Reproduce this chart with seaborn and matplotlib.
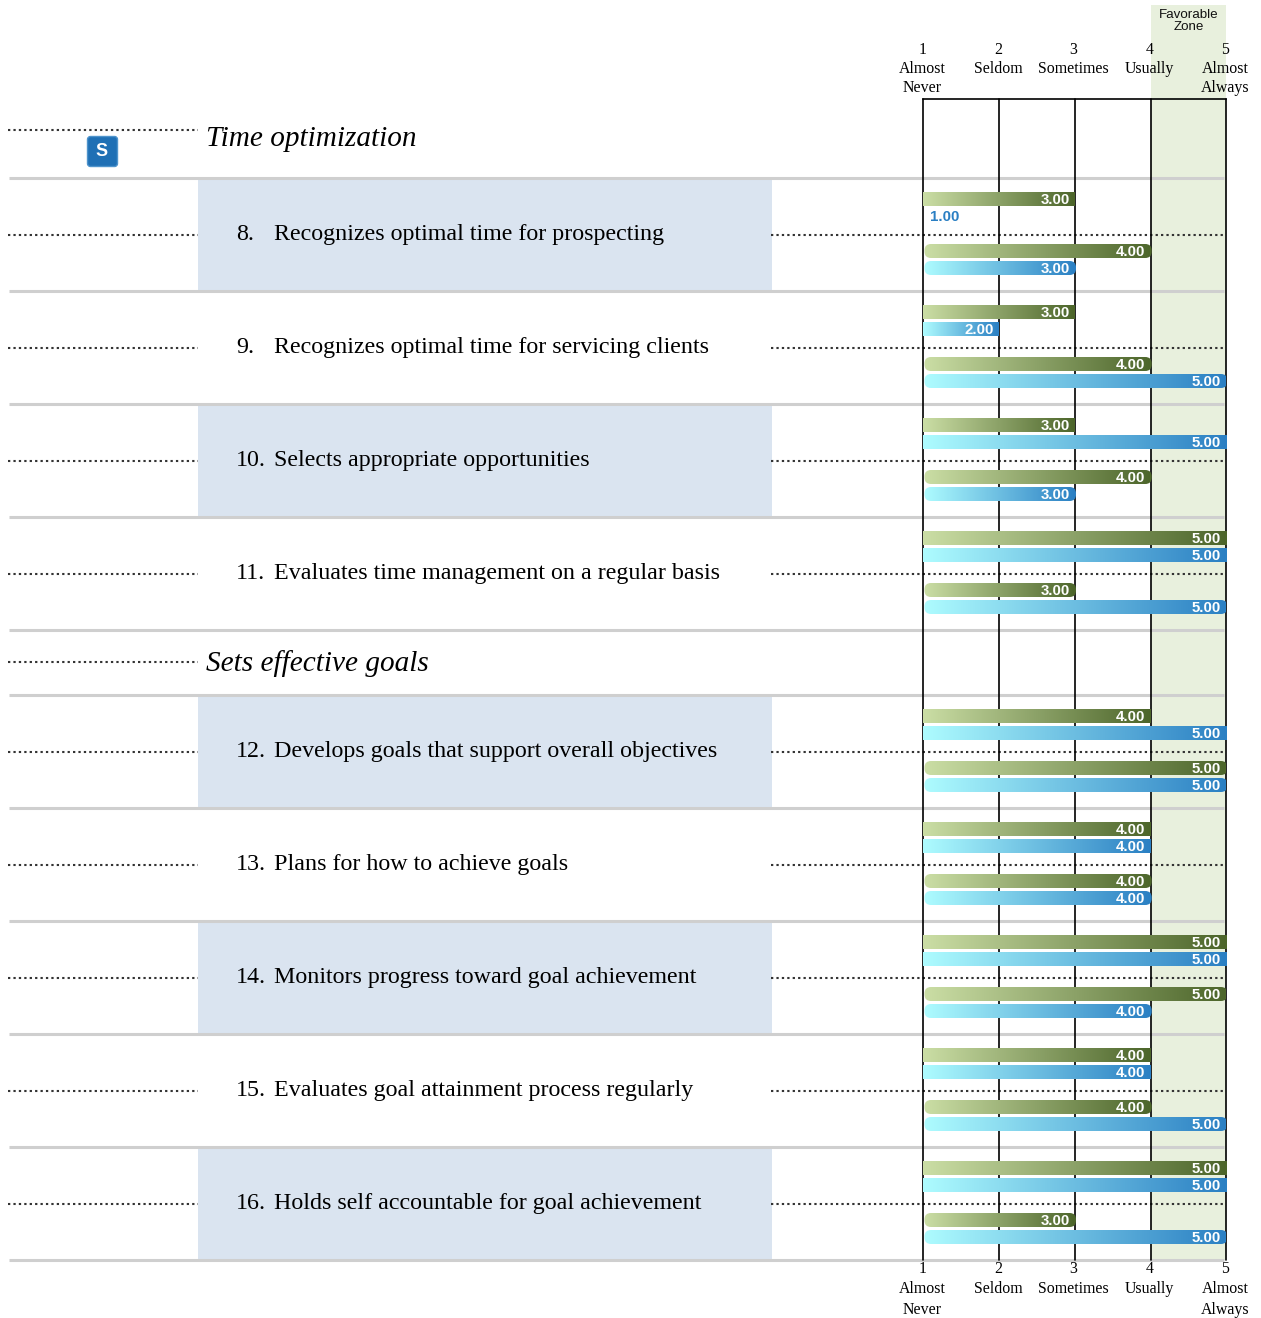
import numpy as np
import pandas as pd
import matplotlib
matplotlib.use("Agg")
import matplotlib.pyplot as plt
from matplotlib.colors import LinearSegmentedColormap
from matplotlib.patches import FancyBboxPatch, Rectangle
from matplotlib.transforms import ScaledTranslation
import seaborn as sns

# ---------- data ----------
item_numbers = ["8.", "9.", "10.", "11.", "12.", "13.", "14.", "15.", "16."]
item_labels = [
    "Recognizes optimal time for prospecting",
    "Recognizes optimal time for servicing clients",
    "Selects appropriate opportunities",
    "Evaluates time management on a regular basis",
    "Develops goals that support overall objectives",
    "Plans for how to achieve goals",
    "Monitors progress toward goal achievement",
    "Evaluates goal attainment process regularly",
    "Holds self accountable for goal achievement",
]
section_titles = ["Time optimization", "Sets effective goals"]
green_square = [3, 3, 3, 5, 4, 4, 5, 4, 5]
blue_square = [1, 2, 5, 5, 5, 4, 5, 4, 5]
green_round = [4, 4, 4, 3, 5, 4, 5, 4, 3]
blue_round = [3, 5, 3, 5, 5, 4, 4, 5, 5]
scale_values = [1, 2, 3, 4, 5]
scale_labels = ["1\nAlmost\nNever", "2\nSeldom\n ", "3\nSometimes\n ", "4\nUsually\n ", "5\nAlmost\nAlways"]
zone_label = "Favorable\nZone"

# ---------- layout (pixels) ----------
W, H = 1261, 1318
PX_X1, PX_X5 = 923.5, 1226.2
PX_TOP, PX_BOT = 99.0, 1260.0
row_tops = [178, 291, 404, 517, 695, 808, 921, 1034, 1147]
bar_offsets = {"gs": 21, "bs": 38, "gr": 73, "br": 90}
BAR_H = 15
GREEN_CMAP = LinearSegmentedColormap.from_list("g", ["#cbdea5", "#4c652a"])
BLUE_CMAP = LinearSegmentedColormap.from_list("b", ["#aefcff", "#2a7fc3"])
SERIF = "Liberation Serif"
SANS = "Liberation Sans"
DOTS = (0, (1.1, 1.5))

sns.set_theme(style="white")
fig = plt.figure(figsize=(W / 100, H / 100), dpi=100, facecolor="white")

# background layer in pixel coordinates
bg = fig.add_axes([0, 0, 1, 1], zorder=0)
bg.set_xlim(0, W)
bg.set_ylim(H, 0)
bg.axis("off")

bg.add_patch(Rectangle((1150.5, 5), 75.5, PX_BOT - 5, fc="#e8f0dd", ec="none", zorder=0))
bg.text(1189, 21.3, zone_label, ha="center", va="center", family=SANS, fontsize=9.6,
        linespacing=1.02, color="#111111")

for i, top in enumerate(row_tops):
    if i % 2 == 0:
        bg.add_patch(Rectangle((198, top + 2), 574, 110, fc="#dae4f0", ec="none", zorder=1))
    yc = top + 56.5
    bg.plot([8, 198], [yc, yc], color="#333333", lw=1.5, ls=DOTS, zorder=2)
    bg.plot([771, 1224], [yc, yc], color="#333333", lw=1.5, ls=DOTS, zorder=2)
    bg.text(236, top + 61.9, item_numbers[i], ha="left", va="baseline", family=SERIF, fontsize=17.25, color="black")
    bg.text(274, top + 61.9, item_labels[i], ha="left", va="baseline", family=SERIF, fontsize=17.25, color="black")

for y in [178, 291, 404, 517, 630, 695, 808, 921, 1034, 1147, 1260]:
    bg.plot([9, 1224], [y, y], color="#cfcfcf", lw=2.2, zorder=2, solid_capstyle="butt")

for title, y_text, y_dot in zip(section_titles, [146.2, 671.2], [130, 662]):
    bg.plot([8, 198], [y_dot, y_dot], color="#333333", lw=1.5, ls=DOTS, zorder=2)
    bg.text(206, y_text, title, ha="left", va="baseline", family=SERIF, style="italic",
            fontsize=21.05, color="black")

# "S" badge
bg.add_patch(FancyBboxPatch((87.5, 136.5), 30, 30, boxstyle="round,pad=0,rounding_size=3",
                            fc="#1f70b5", ec="#4f94cc", lw=1, zorder=3))
bg.text(102, 152, "S", ha="center", va="center", family=SANS, fontweight="bold",
        fontsize=13, color="white", zorder=4)

# chart layer
left = PX_X1 / W
width = (PX_X5 - PX_X1) / W
bottom = 1 - PX_BOT / H
height = (PX_BOT - PX_TOP) / H
ax = fig.add_axes([left, bottom, width, height], zorder=1, facecolor="none")

series = {"gs": green_square, "bs": blue_square, "gr": green_round, "br": blue_round}
records = []
for key, vals in series.items():
    for top, v in zip(row_tops, vals):
        records.append({"series": key, "value": v, "y": top + bar_offsets[key]})
df = pd.DataFrame(records)

sns.barplot(data=df, x="value", y="y", orient="h", native_scale=True, width=BAR_H / 17,
            color="#7f9f5f", errorbar=None, ax=ax, zorder=3)

ax.set_xlim(1, 5)
ax.set_ylim(PX_BOT, PX_TOP)
ax.set_xlabel("")
ax.set_ylabel("")
ax.set_yticks([])
px_per_unit = (PX_X5 - PX_X1) / 4

lookup = {(r["y"]): r for r in records}
grad = np.linspace(0, 1, 256).reshape(1, -1)
for patch in list(ax.patches):
    yc = patch.get_y() + patch.get_height() / 2
    rec = lookup[int(round(yc))]
    v = rec["value"]
    key = rec["series"]
    patch.set_visible(False)
    y0 = yc - BAR_H / 2
    label_y = yc + 0.8
    if v <= 1:
        ax.text(1 + 6.5 / px_per_unit, label_y, f"{v:.2f}", ha="left", va="center", family=SANS,
                fontweight="bold", fontsize=10.8, color="#2a7fc3", zorder=6)
        continue
    cmap = GREEN_CMAP if key[0] == "g" else BLUE_CMAP
    x_end = v + 1.2 / px_per_unit
    if key[1] == "r":
        x_start = 1 + 1 / px_per_unit
        y0r, hr = y0 + 0.5, BAR_H - 1
        clip = FancyBboxPatch((x_start, y0r), x_end - x_start, hr,
                              boxstyle=f"round,pad=0,rounding_size={6.5 / px_per_unit}",
                              mutation_aspect=px_per_unit, fc="none", ec="none")
    else:
        x_start = 1
        y0r, hr = y0, BAR_H
        if v < 5:
            x_end = v
        clip = Rectangle((x_start, y0r), x_end - x_start, hr, fc="none", ec="none")
    ax.add_patch(clip)
    im = ax.imshow(grad, cmap=cmap, aspect="auto", extent=(x_start, x_end, y0r + hr, y0r),
                   zorder=4, interpolation="bilinear")
    im.set_clip_path(clip)
    ax.text(v - 5.3 / px_per_unit, label_y, f"{v:.2f}", ha="right", va="center", family=SANS,
            fontweight="bold", fontsize=10.8, color="white", zorder=6)

ax.set_xlim(1, 5)
ax.set_ylim(PX_BOT, PX_TOP)
ax.grid(False)
for x in scale_values:
    ax.axvline(x, color="black", lw=1.2, zorder=2, clip_on=False)
for name, sp in ax.spines.items():
    sp.set_visible(name == "top")
    sp.set_color("black")
    sp.set_linewidth(1.2)

shift = ScaledTranslation(-1.2 / 100, 0, fig.dpi_scale_trans)
ax.set_xticks(scale_values)
ax.set_xticklabels(scale_labels, family=SERIF, fontsize=11.4, color="black", linespacing=1.34)
ax.tick_params(axis="x", length=0, pad=1, bottom=False)
sec = ax.secondary_xaxis("top")
sec.set_xticks(scale_values)
sec.set_xticklabels(scale_labels, family=SERIF, fontsize=11.4, color="black", linespacing=1.26)
sec.tick_params(axis="x", length=0, pad=2, top=False)
sec.spines["top"].set_visible(False)
for lab in list(ax.get_xticklabels()) + list(sec.get_xticklabels()):
    lab.set_transform(lab.get_transform() + shift)

fig.savefig("out.png", dpi=100, facecolor="white")
